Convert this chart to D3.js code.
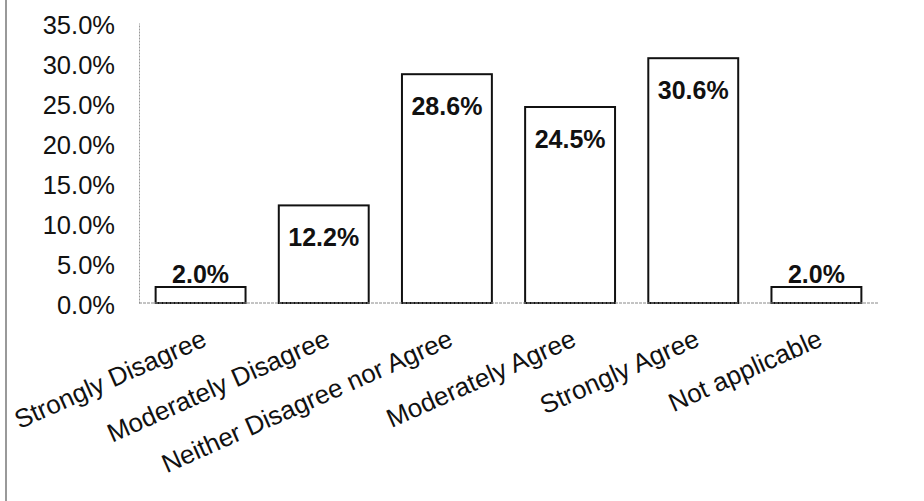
<!DOCTYPE html>
<html>
<head>
<meta charset="utf-8">
<script src="https://cdn.jsdelivr.net/npm/d3@7/dist/d3.min.js"></script>
<style>
  html, body { margin: 0; padding: 0; background: #fff; }
  svg { display: block; font-family: "Liberation Sans", Arial, sans-serif; }
</style>
</head>
<body>
<svg id="chart" width="924" height="501"></svg>
<script>
// Survey response shares (percent)
const categories = [
  "Strongly Disagree",
  "Moderately Disagree",
  "Neither Disagree nor Agree",
  "Moderately Agree",
  "Strongly Agree",
  "Not applicable"
];
const values = [2.0, 12.2, 28.6, 24.5, 30.6, 2.0];
const yTicks = [0, 5, 10, 15, 20, 25, 30, 35];

const svg = d3.select("#chart");
const W = 924, H = 501;
const plot = { left: 139, right: 878, top: 23, bottom: 303 };

// Frame edge on the left side
svg.append("line")
  .attr("x1", 6).attr("x2", 6).attr("y1", 0).attr("y2", H)
  .attr("stroke", "#777").attr("stroke-width", 1.5);

const x = d3.scaleBand()
  .domain(categories)
  .range([plot.left, plot.right])
  .paddingInner(0.27)
  .paddingOuter(0.135);

const y = d3.scaleLinear()
  .domain([0, 35])
  .range([plot.bottom, plot.top]);

// Y axis
const yAxis = svg.append("g")
  .attr("transform", `translate(${plot.left},0)`)
  .call(d3.axisLeft(y).tickValues(yTicks).tickSize(0).tickPadding(24)
    .tickFormat(d => d.toFixed(1) + "%"));
yAxis.select(".domain")
  .attr("stroke", "#999").attr("stroke-width", 1).attr("stroke-dasharray", "2,1");
yAxis.selectAll("text")
  .attr("font-size", 25.5).attr("fill", "#111")
  .attr("font-family", "'Liberation Sans', Arial, sans-serif")
  .attr("dy", "0.4em");

// Bars
svg.append("g").selectAll("rect")
  .data(values)
  .join("rect")
  .attr("x", (d, i) => x(categories[i]))
  .attr("y", d => y(d))
  .attr("width", x.bandwidth())
  .attr("height", d => y(0) - y(d))
  .attr("fill", "#fff")
  .attr("stroke", "#111")
  .attr("stroke-width", 2);

// X axis baseline
svg.append("line")
  .attr("x1", plot.left).attr("x2", plot.right)
  .attr("y1", y(0)).attr("y2", y(0))
  .attr("stroke", "#888").attr("stroke-width", 1).attr("stroke-dasharray", "3,1");

// Value labels: inside the bar top when it fits, above it otherwise
svg.append("g").selectAll("text")
  .data(values)
  .join("text")
  .attr("x", (d, i) => x(categories[i]) + x.bandwidth() / 2)
  .attr("y", d => (y(0) - y(d) > 50) ? y(d) + 41 : y(d) - 4)
  .attr("text-anchor", "middle")
  .attr("font-size", 25)
  .attr("font-weight", "bold")
  .attr("fill", "#111")
  .text(d => d.toFixed(1) + "%");

// Category labels, rotated
svg.append("g").selectAll("text")
  .data(categories)
  .join("text")
  .attr("transform", d => `translate(${x(d) + x.bandwidth() / 2},${plot.bottom + 25}) rotate(-24)`)
  .attr("text-anchor", "end")
  .attr("dy", "0.72em")
  .attr("font-size", 26)
  .attr("fill", "#111")
  .text(d => d);
</script>
</body>
</html>
